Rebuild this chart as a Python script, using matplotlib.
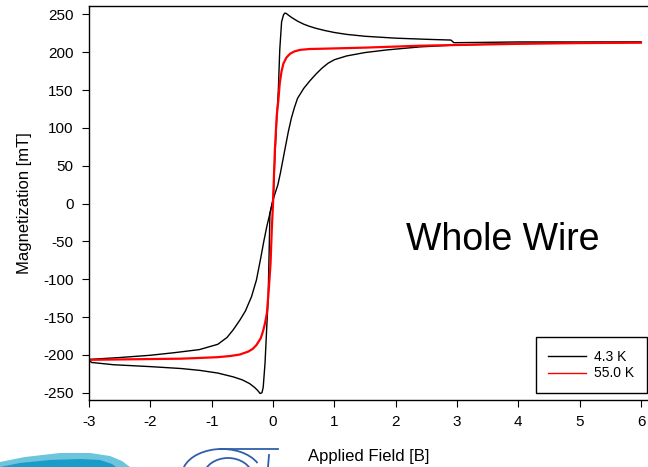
import numpy as np
import matplotlib.pyplot as plt
from matplotlib.patches import Polygon, Arc
from matplotlib.lines import Line2D

plt.rcParams['font.family'] = ['Liberation Sans', 'DejaVu Sans']
plt.rcParams['axes.unicode_minus'] = False

# 4.3 K loop, field going down (6 -> -3)
h_down_43 = [6.0, 5.0, 4.0, 3.5, 2.95, 2.9, 2.5, 2.0, 1.5, 1.2, 1.0, 0.85, 0.7, 0.6, 0.5, 0.4,
             0.3, 0.25, 0.21, 0.19, 0.17, 0.14, 0.11, 0.087, 0.06, 0.03, 0.005, -0.05, -0.1,
             -0.15, -0.2, -0.27, -0.35, -0.45, -0.54, -0.65, -0.75, -0.9, -1.2, -1.6, -2.0,
             -2.5, -3.0]
m_down_43 = [213.5, 213.5, 213.5, 213.0, 212.5, 216.0, 217.0, 218.5, 221.0, 223.5, 226.0,
             228.5, 231.5, 234.0, 237.0, 241.0, 246.0, 249.0, 251.5, 251.5, 249.0, 240.0,
             203.0, 150.0, 110.0, 60.0, 8.0, -13.0, -30.0, -50.0, -72.0, -101.0, -123.0,
             -142.0, -154.0, -167.0, -177.0, -186.0, -193.0, -197.0, -200.5, -203.5, -206.0]

# 4.3 K loop, field going up (-3 -> 6)
h_up_43 = [-3.0, -2.96, -2.9, -2.6, -2.0, -1.5, -1.19, -0.9, -0.65, -0.5, -0.38, -0.3, -0.25,
           -0.21, -0.18, -0.16, -0.13, -0.1, -0.08, -0.05, 0.02, 0.08, 0.12, 0.16, 0.2, 0.25,
           0.3, 0.35, 0.4, 0.5, 0.6, 0.7, 0.8, 0.9, 1.0, 1.2, 1.5, 1.86, 2.4, 3.0, 4.0, 5.0, 6.0]
m_up_43 = [-206.0, -210.0, -210.5, -213.0, -215.5, -218.0, -220.5, -224.0, -229.0, -233.0,
           -238.0, -243.0, -247.0, -251.0, -250.0, -243.0, -211.0, -160.0, -128.0, -13.0,
           10.0, 25.0, 40.0, 57.0, 74.0, 95.0, 113.0, 127.0, 139.0, 152.0, 162.0, 171.0,
           179.0, 185.5, 190.0, 195.0, 199.5, 203.0, 207.0, 209.5, 211.5, 212.5, 213.0]

# 55.0 K loop (narrow, both branches almost on top of each other)
h_55 = [-3.0, -2.5, -2.0, -1.5, -1.19, -0.9, -0.7, -0.54, -0.4, -0.33, -0.27, -0.2, -0.16,
        -0.13, -0.1, -0.07, -0.04, -0.02, 0.0, 0.03, 0.06, 0.087, 0.11, 0.14, 0.17, 0.22,
        0.28, 0.35, 0.44, 0.6, 0.93, 1.5, 2.4, 3.0, 4.0, 5.0, 6.0]
m_55 = [-206.5, -206.0, -205.5, -205.0, -204.0, -203.0, -201.5, -199.5, -195.5, -192.0,
        -187.0, -178.0, -168.0, -158.0, -145.0, -115.0, -79.0, -35.0, 0.0, 70.0, 115.0,
        136.0, 159.0, 175.0, 185.0, 193.0, 198.0, 201.0, 203.0, 204.2, 204.8, 206.0, 208.5,
        209.5, 211.0, 212.0, 212.5]

xticks = [-3, -2, -1, 0, 1, 2, 3, 4, 5, 6]
yticks = [-250, -200, -150, -100, -50, 0, 50, 100, 150, 200, 250]

W, H = 648, 467
fig = plt.figure(figsize=(W / 100, H / 100), dpi=100)
ax = fig.add_axes([89 / W, 1 - 400 / H, (W - 89) / W, 394 / H])

ax.plot(h_down_43, m_down_43, color='black', lw=1.0)
ax.plot(h_up_43, m_up_43, color='black', lw=1.0)
ax.plot(h_55, m_55, color='#ff0000', lw=1.6)

ax.set_xlim(-3, 6.114)
ax.set_ylim(-259.6, 261)
ax.set_xticks(xticks)
ax.set_yticks(yticks)
ax.tick_params(direction='out', length=5, width=0.8, labelsize=11, pad=6)
for s in ['top', 'left', 'bottom']:
    ax.spines[s].set_linewidth(1.0)
ax.spines['right'].set_visible(False)

ax.set_xlabel('Applied Field [B]', fontsize=12, labelpad=14)
ax.set_ylabel('Magnetization [mT]', fontsize=12, labelpad=8)

ax.text(0.74, 0.405, 'Whole Wire', transform=ax.transAxes, fontsize=27,
        ha='center', va='center')

handles = [Line2D([], [], color='black', lw=1.0), Line2D([], [], color='#ff0000', lw=1.0)]
leg = ax.legend(handles, ['4.3 K', '55.0 K'], loc='lower right',
                bbox_to_anchor=(0.998, 0.018), borderaxespad=0, fontsize=10,
                fancybox=False, edgecolor='black', framealpha=1,
                handlelength=2.7, handletextpad=0.6, labelspacing=0.2, borderpad=0.9)
leg.get_frame().set_linewidth(1.0)


# logo fragments at the bottom left (pixel coords -> figure fraction)
def px(x, y):
    return (x / W, 1 - y / H)


swoosh = [px(0, 462), px(25, 457), px(60, 453), px(90, 453), px(110, 456), px(122, 461),
          px(130, 467), px(0, 467)]
fig.patches.append(Polygon(swoosh, closed=True, transform=fig.transFigure,
                           facecolor='#6cc4dd', edgecolor='none'))
band = [px(0, 467), px(20, 463), px(50, 460), px(80, 459), px(100, 460), px(112, 464),
        px(116, 467)]
fig.patches.append(Polygon(band, closed=True, transform=fig.transFigure,
                           facecolor='#1a9cc9', edgecolor='none'))

blue = '#2e5fad'
fig.patches.append(Arc(px(222, 475), 80 / W, 52 / H, theta1=25, theta2=172,
                       transform=fig.transFigure, color=blue, lw=1.3))
fig.patches.append(Arc(px(228, 478), 50 / W, 40 / H, theta1=10, theta2=170,
                       transform=fig.transFigure, color=blue, lw=1.3))
fig.lines.append(Line2D([220 / W, 278 / W], [1 - 449 / H, 1 - 449 / H],
                        transform=fig.transFigure, color=blue, lw=1.3))
fig.lines.append(Line2D([269 / W, 268 / W], [1 - 455 / H, 1 - 467 / H],
                        transform=fig.transFigure, color=blue, lw=1.3))

fig.savefig('out.png', dpi=100)
